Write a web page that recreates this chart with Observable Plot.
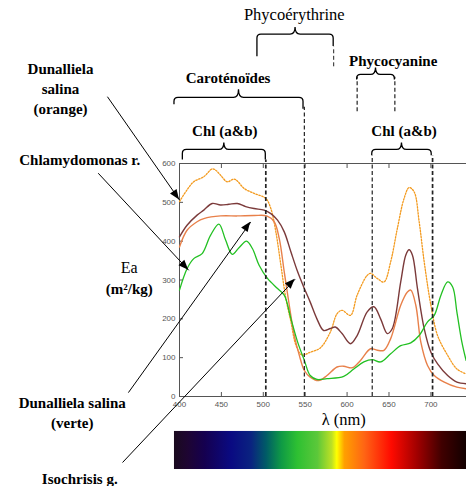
<!DOCTYPE html>
<html><head><meta charset="utf-8">
<script src="https://cdn.jsdelivr.net/npm/d3@7"></script>
<script src="https://cdn.jsdelivr.net/npm/@observablehq/plot@0.6"></script>
<style>body{margin:0;background:#fff}</style>
</head><body><div id="chart"></div>
<script>
// ---- data: [wavelength nm, Ea m²/kg] ----
const dunaliellaOrange = [[400,502],[409,532],[417,553],[429,566],[439,586],[443,583],[449,570],[457,553],[465,560],[469,555],[477,536],[489,523],[503,510],[509,484],[515,424],[521,338],[527,252],[533,192],[539,132],[546,107],[556,114],[568,125],[580,166],[588,213],[594,222],[604,209],[612,261],[624,312],[628,317],[636,304],[644,295],[652,347],[660,433],[668,510],[674,538],[680,527],[686,450],[692,347],[700,235],[708,157],[720,106],[731,71],[742,58]];
const isochrisis = [[400,411],[409,441],[421,467],[429,480],[439,497],[449,493],[459,495],[469,497],[479,489],[489,484],[501,480],[509,471],[517,454],[525,424],[533,372],[541,321],[549,278],[556,243],[564,200],[572,170],[580,175],[586,179],[594,162],[604,136],[612,157],[624,218],[632,231],[640,200],[648,162],[654,175],[664,295],[670,364],[674,378],[678,364],[684,278],[692,175],[700,114],[708,84],[720,54],[731,37],[742,33]];
const dunaliellaVerte = [[400,385],[409,428],[421,450],[429,458],[449,465],[469,465],[489,466],[504,465],[513,450],[519,407],[525,321],[531,235],[537,157],[543,106],[549,67],[556,50],[566,41],[576,54],[588,76],[596,78],[606,74],[616,93],[628,123],[636,119],[644,119],[652,149],[664,235],[672,269],[676,274],[682,235],[688,140],[696,80],[704,54],[716,37],[731,24],[742,20]];
const chlamydomonas = [[400,274],[409,329],[417,355],[427,368],[437,415],[447,444],[455,403],[463,366],[471,383],[480,400],[487,381],[495,338],[505,304],[517,278],[525,261],[533,200],[541,140],[549,93],[556,54],[564,44],[576,46],[596,52],[608,71],[620,89],[630,95],[640,89],[652,110],[664,131],[676,138],[686,157],[696,192],[704,209],[712,261],[720,295],[726,282],[731,218],[737,140],[742,93]];

const xTicks = [400,450,500,550,600,650,700];
const yTicks = [0,100,200,300,400,500,600];

// pigment bands (dashed verticals): [wavelength, from Ea, to Ea, width]
const dashedLines = [[503,0,609,1.7],[549,0,745,1.2],[630,0,620,1.2],[702,0,620,1.7],[584,849,900,1],[612,733,822,1.2],[657,733,822,1.2]];
// braces: [x1, x2, horizontal level, tip, left leg end, right leg end]
const braces = [[493,584,932,950,875,901],[612,657,828,846,815,815],[394,548,769,790,751,740],[404,503,635,653,609,609],[630,701,635,653,620,620]];

const boldLabels = [
  {x:655, y:867, text:"Phycocyanine"},
  {x:458, y:823, text:"Caroténoïdes"},
  {x:454, y:686, text:"Chl (a&b)"},
  {x:668, y:686, text:"Chl (a&b)"},
  {x:258, y:795, text:"Dunalliela\nsalina\n(orange)"},
  {x:281, y:612, text:"Chlamydomonas r."},
  {x:340, y:281, text:"(m²/kg)"},
  {x:272, y:-40, text:"Dunalliela salina\n(verte)"},
  {x:281, y:-209, text:"Isochrisis g."}
];
const normalLabels = [
  {x:537, y:983, text:"Phycoérythrine", size:16.5},
  {x:340, y:330, text:"Ea", size:16},
  {x:596, y:-59, text:"λ (nm)", size:16.5}
];
const arrows = [
  {x1:314, y1:772, x2:400, y2:506},
  {x1:303, y1:575, x2:411, y2:325},
  {x1:339, y1:10, x2:485, y2:449},
  {x1:332, y1:-170, x2:538, y2:302}
];
// visible spectrum bar: [wavelength, colour]
const spectrumStops = [[394,"#1a0a1e"],[410,"#1e0532"],[430,"#15004f"],[462,"#0a0a82"],[486,"#0a2380"],[504,"#005c66"],[522,"#0f9a45"],[541,"#2ec032"],[565,"#5cc83a"],[582,"#bde024"],[588,"#ffff00"],[597,"#ffa000"],[621,"#ff6414"],[653,"#ff0a00"],[684,"#a00000"],[713,"#400000"],[742,"#120000"]];
const spectrumBar = [{x1:394, x2:742.5, y1:-90, y2:-188}];

const rows = (arr) => arr.map(([x,y]) => ({x,y}));

const plot = Plot.plot({
  width: 466, height: 486,
  marginLeft: 179, marginRight: 0, marginTop: 163, marginBottom: 90,
  x: {domain: [400, 742.5]},
  y: {domain: [0, 600]},
  style: {fontFamily: "Liberation Sans", background: "white", overflow: "visible"},
  marks: [
    Plot.rect(spectrumBar, {x1:"x1", x2:"x2", y1:"y1", y2:"y2", fill:"url(#spectrum)"}),
    Plot.ruleY([0, 600], {stroke:"#555"}),
    Plot.ruleX([400], {stroke:"#555"}),
    Plot.axisX({ticks: xTicks, tickSize: -4, tickPadding: 9, color:"#555", fontSize: 8, label: null}),
    Plot.axisX({anchor:"top", ticks: xTicks, tickSize: -4, tickFormat: () => "", color:"#555", label: null}),
    Plot.axisY({ticks: yTicks, tickSize: -4, tickPadding: 8, color:"#555", fontSize: 8, label: null}),
    Plot.line(rows(dunaliellaOrange), {x:"x", y:"y", stroke:"#f39a1e", strokeWidth:1.3, strokeDasharray:"1.5,1.5", curve:"catmull-rom"}),
    Plot.line(rows(isochrisis), {x:"x", y:"y", stroke:"#7b3a3a", strokeWidth:1.4, curve:"catmull-rom"}),
    Plot.line(rows(dunaliellaVerte), {x:"x", y:"y", stroke:"#e8804a", strokeWidth:1.4, curve:"catmull-rom"}),
    Plot.line(rows(chlamydomonas), {x:"x", y:"y", stroke:"#22c022", strokeWidth:1.3, curve:"catmull-rom"}),
    Plot.ruleX(dashedLines, {x:d=>d[0], y1:d=>d[1], y2:d=>d[2], strokeWidth:d=>d[3], stroke:"#222", strokeDasharray:"4,2.5"}),
    Plot.link(arrows, {x1:"x1", y1:"y1", x2:"x2", y2:"y2", stroke:"black", strokeWidth:1}),
    Plot.text(boldLabels, {x:"x", y:"y", text:"text", fontWeight:"bold", fontFamily:"Liberation Serif", fontSize:15, lineHeight:1.33, fill:"black"}),
    Plot.text(normalLabels, {x:"x", y:"y", text:"text", fontSize:"size", fontFamily:"Liberation Serif", fill:"black"})
  ]
});

const xs = plot.scale("x"), ys = plot.scale("y");
const X = v => xs.apply(v), Y = v => ys.apply(v);
const svg = d3.select(plot);
const defs = svg.insert("defs", ":first-child");
const grad = defs.append("linearGradient").attr("id","spectrum").attr("x1",0).attr("x2",1).attr("y1",0).attr("y2",0);
const s0 = spectrumStops[0][0], s1 = spectrumStops[spectrumStops.length-1][0];
spectrumStops.forEach(([w,c]) => grad.append("stop").attr("offset", (w-s0)/(s1-s0)).attr("stop-color", c));

const g = svg.append("g");
braces.forEach(([a,b,h,t,l1,l2]) => {
  const x1=X(a), x2=X(b), yH=Y(h), yT=Y(t), y1=Y(l1), y2=Y(l2), xm=(x1+x2)/2, r=4, rt=5;
  g.append("path").attr("fill","none").attr("stroke","black").attr("stroke-width",1.3)
   .attr("d", `M${x1},${y1} L${x1},${yH+r} Q${x1},${yH} ${x1+r},${yH} L${xm-rt},${yH} Q${xm},${yH} ${xm},${yT} Q${xm},${yH} ${xm+rt},${yH} L${x2-r},${yH} Q${x2},${yH} ${x2},${yH+r} L${x2},${y2}`);
});
arrows.forEach(({x1,y1,x2,y2}) => {
  const ax=X(x1), ay=Y(y1), bx=X(x2), by=Y(y2);
  const ang = Math.atan2(by-ay, bx-ax), L=10, W=4;
  const ux=Math.cos(ang), uy=Math.sin(ang);
  const px=bx-ux*L, py=by-uy*L;
  g.append("path").attr("fill","black")
   .attr("d", `M${bx},${by} L${px-uy*W},${py+ux*W} L${px+uy*W},${py-ux*W} Z`);
});
document.getElementById("chart").appendChild(plot);
</script>
</body></html>
